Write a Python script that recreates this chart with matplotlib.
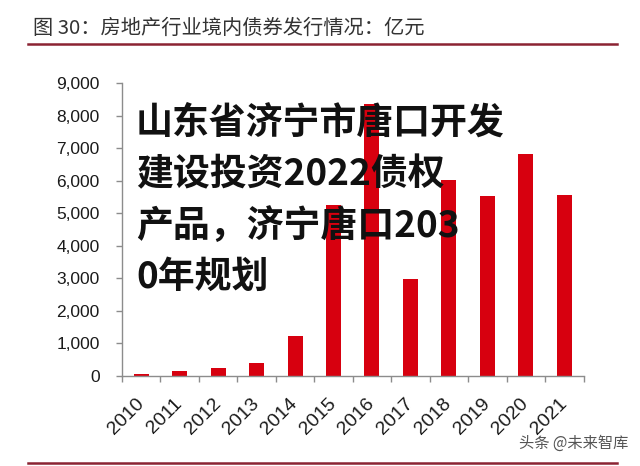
import matplotlib
matplotlib.use("Agg")
import matplotlib.pyplot as plt
import matplotlib.transforms as mtransforms
from matplotlib.ticker import FuncFormatter, FixedLocator

plt.rcParams['font.family'] = ['Liberation Sans', 'Noto Sans CJK SC', 'DejaVu Sans']

years = ['2010', '2011', '2012', '2013', '2014', '2015', '2016',
         '2017', '2018', '2019', '2020', '2021']
issuance = [60, 135, 250, 380, 1225, 5245, 8370, 2970, 6010, 5520, 6810, 5550]
yticks = [0, 1000, 2000, 3000, 4000, 5000, 6000, 7000, 8000, 9000]
title = '图 30：房地产行业境内债券发行情况：亿元'
overlay_lines = ['山东省济宁市唐口开发', '建设投资2022债权', '产品，济宁唐口203', '0年规划']
watermark = '头条 @未来智库'

W, H = 640, 466
fig = plt.figure(figsize=(W / 100, H / 100), dpi=100)
fig.patch.set_facecolor('white')

ax_l, ax_r = 122 / W, 583.5 / W
ax_b, ax_t = (H - 375.7) / H, (H - 83.3) / H
ax = fig.add_axes([ax_l, ax_b, ax_r - ax_l, ax_t - ax_b])

x = list(range(len(years)))
ax.bar(x, issuance, width=0.39, color='#D7000F', zorder=2)

ax.set_xlim(-0.5, len(years) - 0.5)
ax.set_ylim(0, 9000)
ax.yaxis.set_major_locator(FixedLocator(yticks))
ax.yaxis.set_major_formatter(FuncFormatter(lambda v, p: f'{int(v):,}'))

for s in ['top', 'right']:
    ax.spines[s].set_visible(False)
for s in ['left', 'bottom']:
    ax.spines[s].set_color('#8c8c8c')
    ax.spines[s].set_linewidth(1.0)

ax.tick_params(axis='y', direction='out', length=4, width=1, color='#8c8c8c',
               pad=12, labelsize=12.5, labelcolor='#1a1a1a')
ax.set_xticks(x)
ax.set_xticklabels(years, rotation=45, ha='right', va='top',
                   fontsize=14, color='#1a1a1a')
ax.tick_params(axis='x', which='major', length=0, pad=14)
ax.set_xticks([i - 0.5 for i in range(len(years) + 1)], minor=True)
ax.tick_params(axis='x', which='minor', direction='out', length=4, width=1,
               color='#8c8c8c')
shift = mtransforms.ScaledTranslation(6 / 100, 0, fig.dpi_scale_trans)
for lbl in ax.get_xticklabels():
    lbl.set_transform(lbl.get_transform() + shift)

# Title and rules
fig.text(33 / W, 1 - 28 / H, title, fontsize=14.6, color='#333333',
         family=['Noto Sans CJK SC', 'DejaVu Sans'], ha='left', va='center')
fig.add_artist(plt.Line2D([28 / W, 617 / W], [1 - 43.5 / H, 1 - 43.5 / H],
                          color='#8B2332', linewidth=1.8))
fig.add_artist(plt.Line2D([28 / W, 617 / W], [1 - 462.7 / H, 1 - 462.7 / H],
                          color='#8B2332', linewidth=1.8))

# Watermark
fig.text(628 / W, 1 - 443 / H, watermark, fontsize=11, color='#555555',
         family=['Noto Sans CJK SC', 'DejaVu Sans'], ha='right', va='center')

# Overlay headline
centers = [123, 174.5, 226, 277.5]
for line, cy in zip(overlay_lines, centers):
    fig.text(136 / W, 1 - cy / H, line, fontsize=26.6, color='#111111',
             family=['Noto Sans CJK SC', 'DejaVu Sans'], fontweight='black',
             ha='left', va='center')

fig.savefig('out.png', dpi=100, facecolor='white')
